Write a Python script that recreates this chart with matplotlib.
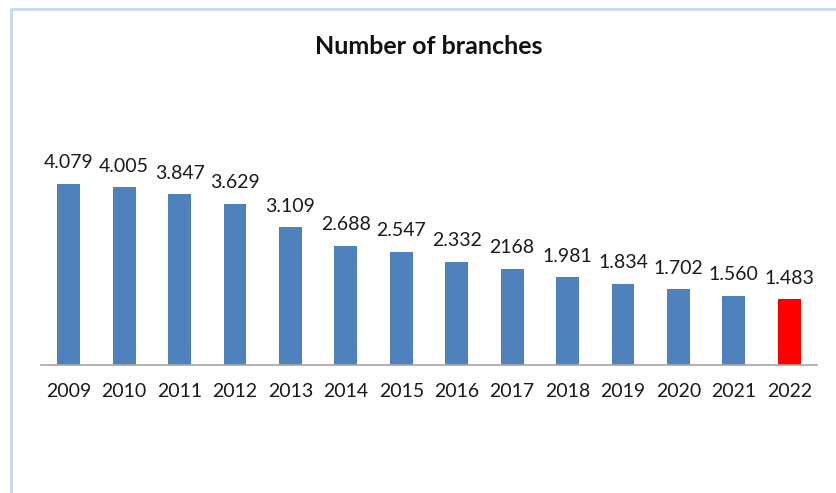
import matplotlib.pyplot as plt
from matplotlib.patches import Rectangle

# Data
years = ["2009", "2010", "2011", "2012", "2013", "2014", "2015",
         "2016", "2017", "2018", "2019", "2020", "2021", "2022"]
branches = [4079, 4005, 3847, 3629, 3109, 2688, 2547,
            2332, 2168, 1981, 1834, 1702, 1560, 1483]
labels = ["4.079", "4.005", "3.847", "3.629", "3.109", "2.688", "2.547",
          "2.332", "2168", "1.981", "1.834", "1.702", "1.560", "1.483"]

plt.rcParams['font.family'] = ['Lato', 'DejaVu Sans']

fig = plt.figure(figsize=(8.37, 4.93), dpi=100)
ax = fig.add_axes([41/837, 128/493, 776/837, 265/493])

colors = ["#4F81BD"] * (len(years) - 1) + ["#FF0000"]
x = range(len(years))
ax.bar(x, branches, width=0.41, color=colors)

for i, (v, s) in enumerate(zip(branches, labels)):
    ax.annotate(s, (i, v), xytext=(0, 9), textcoords="offset points",
                ha="center", va="bottom", fontsize=14, color="#1a1a1a")

ax.set_xlim(-0.5, len(years) - 0.5)
ax.set_ylim(0, 5972)
ax.set_xticks(list(x))
ax.set_xticklabels(years, fontsize=14, color="#1a1a1a")
ax.tick_params(axis="x", length=0, pad=13)
ax.set_yticks([])
for side in ["left", "right", "top"]:
    ax.spines[side].set_visible(False)
ax.spines["bottom"].set_color("#a6a6a6")
ax.spines["bottom"].set_linewidth(1.2)

fig.text(429/837, 1 - 47/493, "Number of branches", ha="center", va="center",
         fontsize=18, fontweight="bold", color="#111111")

# chart frame
fig.patches.append(Rectangle((11/837, -0.1), 1.0, 1 - 9/493 + 0.1,
                             transform=fig.transFigure, fill=False,
                             edgecolor="#c6d9f1", linewidth=2))

fig.savefig("out.png", dpi=100)
